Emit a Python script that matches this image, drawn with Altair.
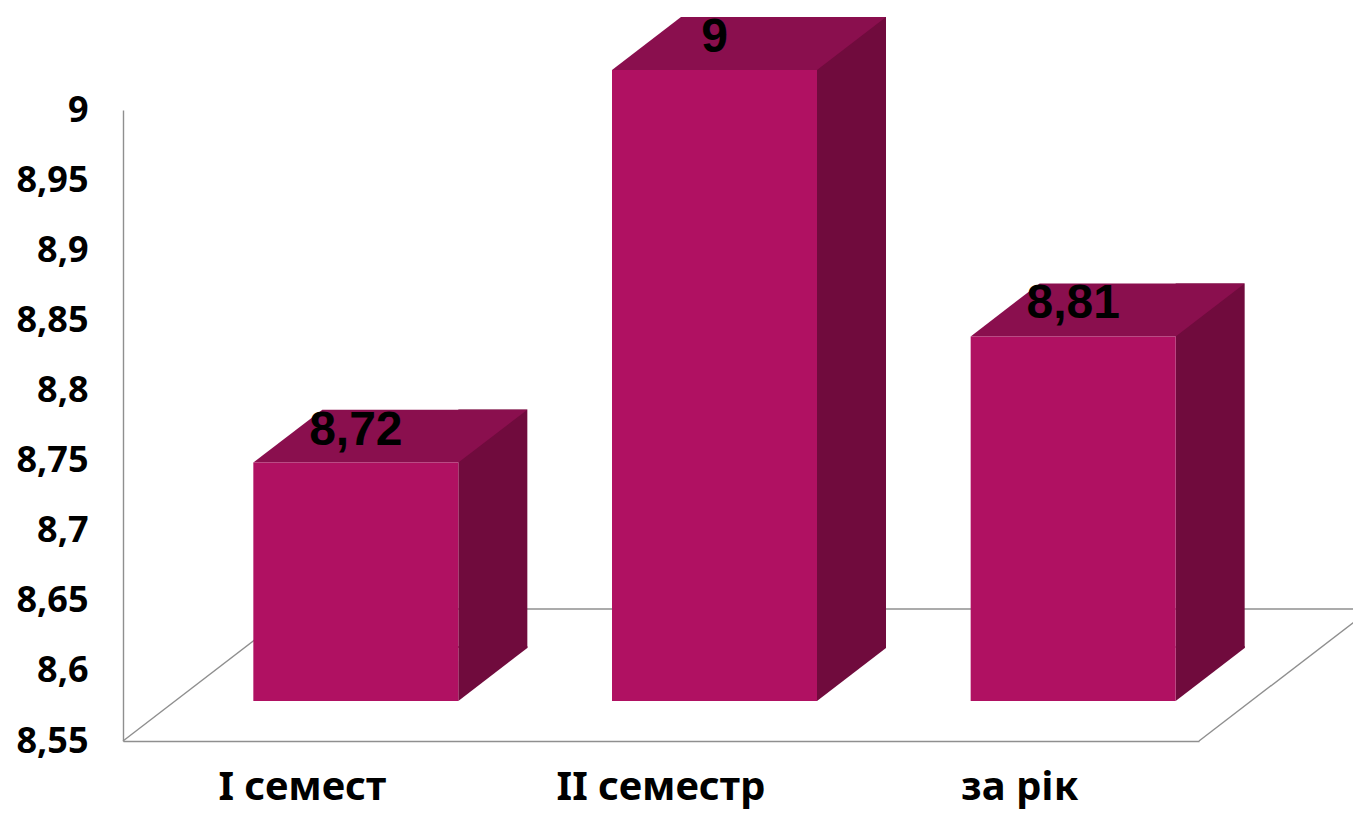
import altair as alt
import pandas as pd

# ---- data ----
categories = ["I семест", "II семестр", "за рік"]
values = [8.72, 9, 8.81]
y_ticks = [8.55, 8.6, 8.65, 8.7, 8.75, 8.8, 8.85, 8.9, 8.95, 9.0]
y_min, y_max = 8.55, 9.0

df = pd.DataFrame({"cat": categories, "value": values})

# ---- style / geometry (pixels) ----
W, H = 1076, 631
FRONT = "#B01162"
TOP = "#8A0F4E"
SIDE = "#700B3D"
LINE = "#8f8f8f"
FONT = "Noto Sans"
LABEL_FONT = "Liberation Sans"
BAR_W = 205
FACE_DX, FACE_DY = 53.5, 40        # bar front face shift into depth
DEPTH_DX, DEPTH_DY = 69, 53        # bar depth
FLOOR_DX, FLOOR_DY = 172, 132      # floor depth

p_inner = 1 - BAR_W / (W / 3)
xenc = alt.X(
    "cat:N",
    sort=categories,
    scale=alt.Scale(paddingInner=p_inner, paddingOuter=p_inner / 2),
    axis=alt.Axis(
        title=None, labelAngle=0, labelFont=FONT, labelFontSize=40,
        labelFontWeight="bold", labelColor="black", labelPadding=58,
        labelBaseline="alphabetic", labelLimit=600, ticks=False, tickSize=0,
        domainColor=LINE, domainWidth=1.4, grid=False,
    ),
)
yscale = alt.Scale(domain=[y_min, y_max], nice=False, zero=False)
yaxis = alt.Axis(
    title=None, values=y_ticks,
    labelExpr="replace(format(datum.value, '~g'), '.', ',')",
    labelFont=FONT, labelFontSize=36, labelFontWeight="bold", labelColor="black",
    labelPadding=35, ticks=False, tickSize=0, grid=False, labelOverlap=False,
    domainColor=LINE, domainWidth=1.4,
)

base = alt.Chart(df)
one = alt.Chart(pd.DataFrame({"k": [0]}))

# floor lines
left_diag = one.mark_rule(color=LINE, strokeWidth=1.4, x2Offset=FLOOR_DX, y2Offset=-FLOOR_DY).encode(
    x=alt.value(0), x2=alt.value(0),
    y=alt.datum(y_min, scale=yscale), y2=alt.datum(y_min),
)
right_diag = one.mark_rule(color=LINE, strokeWidth=1.4, x2Offset=FLOOR_DX, y2Offset=-FLOOR_DY).encode(
    x=alt.value(W), x2=alt.value(W),
    y=alt.datum(y_min), y2=alt.datum(y_min),
)
back_line = one.mark_rule(color=LINE, strokeWidth=1.4, yOffset=-FLOOR_DY).encode(
    x=alt.value(FLOOR_DX), x2=alt.value(W + FLOOR_DX),
    y=alt.datum(y_min),
)

# side faces: rectangle part
side_rect = base.mark_bar(
    color=SIDE, width=DEPTH_DX,
    xOffset=FACE_DX + BAR_W / 2 + DEPTH_DX / 2,
    yOffset=-(FACE_DY + DEPTH_DY), y2Offset=-(FACE_DY + DEPTH_DY),
).encode(x=xenc, y=alt.Y("value:Q", scale=yscale, axis=yaxis), y2=alt.datum(y_min))

# side faces: lower triangle (slightly overlapping the rectangle to hide seams)
u = DEPTH_DX / 2
hy = DEPTH_DY / 2 / u
ov = 2 / u
tri_path = f"M-1,{-hy - ov:.4f}L-1,{hy:.4f}L1,{-hy:.4f}L1,{-hy - ov:.4f}Z"
side_tri = base.mark_point(
    shape=tri_path, size=DEPTH_DX ** 2, filled=True, fill=SIDE, opacity=1, strokeWidth=0,
    xOffset=FACE_DX + BAR_W / 2 + DEPTH_DX / 2,
    yOffset=-(FACE_DY + DEPTH_DY / 2),
).encode(x=xenc, y=alt.datum(y_min))

# top faces: parallelogram
TW = BAR_W + DEPTH_DX
tu = TW / 2
a = (BAR_W - tu) / tu
b = DEPTH_DY / 2 / tu
top_path = f"M-1,{b:.4f}L{a:.4f},{b:.4f}L1,{-b:.4f}L{-a:.4f},{-b:.4f}Z"
top_face = base.mark_point(
    shape=top_path, size=TW ** 2, filled=True, fill=TOP, opacity=1, strokeWidth=0,
    xOffset=FACE_DX - BAR_W / 2 + TW / 2,
    yOffset=-(FACE_DY + DEPTH_DY / 2),
).encode(x=xenc, y=alt.Y("value:Q", scale=yscale))

# front faces
front = base.mark_bar(
    color=FRONT, width=BAR_W, xOffset=FACE_DX, yOffset=-FACE_DY, y2Offset=-FACE_DY,
).encode(x=xenc, y=alt.Y("value:Q", scale=yscale), y2=alt.datum(y_min))

labels = base.transform_calculate(
    label="replace(toString(datum.value), '.', ',')"
).mark_text(
    font=LABEL_FONT, fontSize=48, fontWeight="bold", color="black",
    baseline="alphabetic", align="center", dx=FACE_DX, dy=-(FACE_DY + 18),
).encode(x=xenc, y=alt.Y("value:Q", scale=yscale), text="label:N")

chart = alt.layer(
    left_diag, right_diag, back_line, side_rect, side_tri, top_face, front, labels
).properties(
    width=W, height=H,
    autosize=alt.AutoSizeParams(type="none"),
    padding={"left": 115, "top": 102, "right": 154, "bottom": 72},
).configure(background="white").configure_view(stroke=None)

chart.save("out.html", embed_options={"renderer": "svg", "actions": False})
